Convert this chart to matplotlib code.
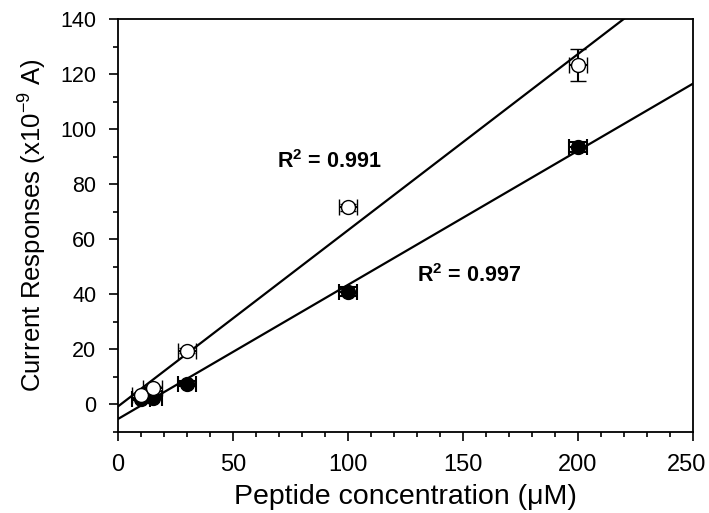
import numpy as np
import matplotlib
matplotlib.use("Agg")
import matplotlib.pyplot as plt
import matplotlib.transforms as mtransforms
from matplotlib.ticker import MultipleLocator

plt.rcParams['font.family'] = ['Liberation Sans', 'DejaVu Sans']
plt.rcParams['mathtext.fontset'] = 'custom'
plt.rcParams['mathtext.rm'] = 'Liberation Sans'
plt.rcParams['mathtext.bf'] = 'Liberation Sans:bold'

# peptide concentration (uM)
conc = [10, 15, 30, 100, 200]
# open circles
open_y = [3.3, 5.8, 19.6, 71.6, 123.3]
open_yerr = [1.0, 1.0, 1.0, 1.2, 5.8]
# filled circles
filled_y = [2.0, 2.5, 7.6, 41.0, 93.5]
filled_yerr = [0.5, 0.5, 0.8, 1.5, 1.8]
xerr = [4, 4, 4, 4, 4]

r2_open = "0.991"
r2_filled = "0.997"

fig = plt.figure(figsize=(7.09, 5.13), dpi=100)
ax = fig.add_axes([118/709, 81/513, 575/709, 413/513])

# linear fits
xfit = np.array([0, 250])
p_open = np.polyfit(conc, open_y, 1)
p_filled = np.polyfit(conc, filled_y, 1)
ax.plot(xfit, np.polyval(p_open, xfit), color='black', lw=1.6, zorder=2)
ax.plot(xfit, np.polyval(p_filled, xfit), color='black', lw=1.6, zorder=2)

ax.errorbar(conc, filled_y, xerr=xerr, yerr=filled_yerr, fmt='o', ms=10,
            mfc='black', mec='black', ecolor='black', elinewidth=1.5,
            capsize=6, capthick=1.5, zorder=3)
ax.errorbar(conc, open_y, xerr=xerr, yerr=open_yerr, fmt='o', ms=10,
            mfc='white', mec='black', mew=1.0, ecolor='black', elinewidth=1.5,
            capsize=6, capthick=1.5, zorder=4)

ax.text(69, 88.4, "R$^\\mathbf{2}$ = " + r2_open, fontsize=15.5, fontweight='bold', va='center')
ax.text(130, 46.9, "R$^\\mathbf{2}$ = " + r2_filled, fontsize=15.5, fontweight='bold', va='center')

ax.set_xlim(0, 250)
ax.set_ylim(-10, 140)
ax.set_xticks(np.arange(0, 251, 50))
ax.set_yticks(np.arange(0, 141, 20))
ax.xaxis.set_minor_locator(MultipleLocator(10))
ax.yaxis.set_minor_locator(MultipleLocator(10))
ax.tick_params(which='major', direction='out', length=6.5, width=1.2)
ax.tick_params(which='minor', direction='out', length=3.5, width=1.2)
ax.tick_params(axis='x', which='major', labelsize=17, pad=9)
ax.tick_params(axis='y', which='major', labelsize=15.5, pad=9)
for s in ax.spines.values():
    s.set_linewidth(1.3)

# nudge the last x tick label inward so it fits the figure
last = ax.get_xticklabels()[-1]
last.set_transform(last.get_transform() + mtransforms.ScaledTranslation(-6/100, 0, fig.dpi_scale_trans))

ax.set_xlabel("Peptide concentration (\u03bcM)", fontsize=20.5, labelpad=6)
ax.set_ylabel("Current Responses (x10$^{\u22129}$ A)", fontsize=18.5, labelpad=9)

fig.savefig("out.png", dpi=100)
